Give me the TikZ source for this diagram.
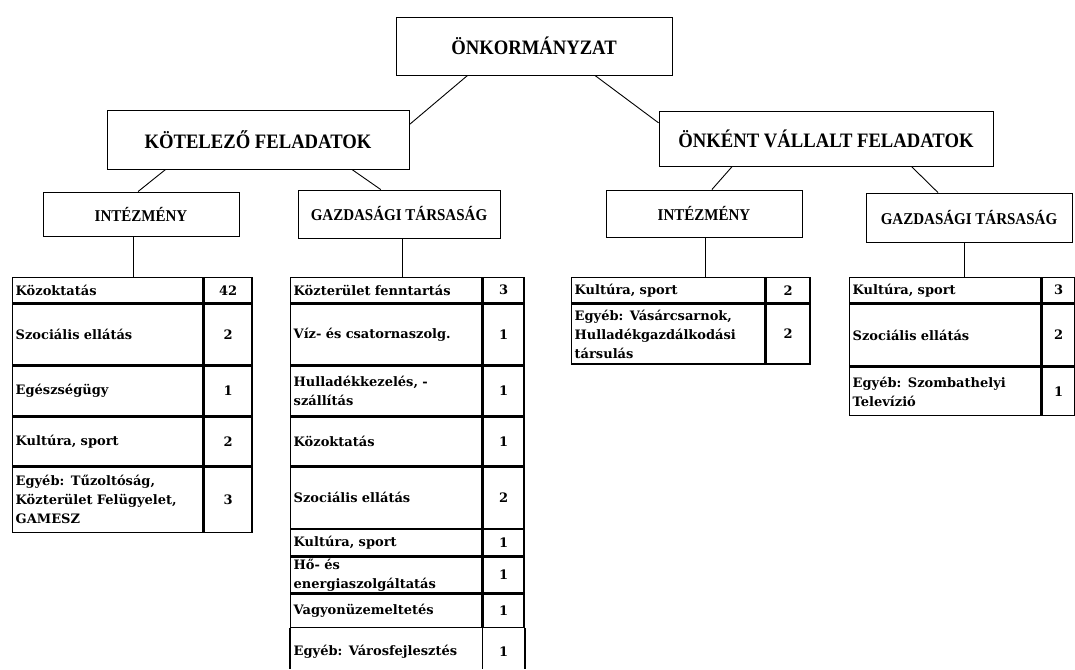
\documentclass[tikz,border=0pt]{standalone}
\usepackage{fontspec}
\newfontfamily\hdfont{Liberation Serif}[FakeStretch=0.91]
\newfontfamily\tabfont{DejaVu Serif}
\usetikzlibrary{calc}
\tikzset{
 hbox/.style={draw, line width=0.9pt, inner sep=0pt, font=\hdfont\bfseries\fontsize{20.5}{24}\selectfont},
 sbox/.style={draw, line width=0.9pt, inner sep=0pt, font=\hdfont\bfseries\fontsize{16.5}{20}\selectfont},
 cell/.style={draw, line width=1.4pt, anchor=north west, inner xsep=3pt, inner ysep=0pt, align=left, font=\tabfont\bfseries\fontsize{13}{19}\selectfont},
 numcell/.style={cell, align=center, inner xsep=0pt},
 opencell/.style={cell, draw=none},
 opennum/.style={numcell, draw=none},
 link/.style={line width=0.9pt},
 tline/.style={line width=1.4pt}
}
\newcommand\trow[7]{%
 \node[cell,text width=#3,minimum height=#5] (#1) at #2 {#6};
 \node[numcell,minimum width=#4,minimum height=#5] (#1n) at (#1.north east) {#7};}
\begin{document}
\begin{tikzpicture}[x=1pt,y=-1pt]
\useasboundingbox (0,0) rectangle (1075,669);
% header boxes
\node[hbox, minimum width=276pt, minimum height=58pt] (top) at (534,46) {ÖNKORMÁNYZAT};
\node[hbox, minimum width=302pt, minimum height=59pt] (kot) at (258,139.5) {KÖTELEZŐ FELADATOK};
\node[hbox, minimum width=334pt, minimum height=55pt] (onk) at (826,138.5) {ÖNKÉNT VÁLLALT FELADATOK};
\node[sbox, minimum width=196pt, minimum height=44pt] (lint) at (141,214) {INTÉZMÉNY};
\node[sbox, minimum width=202pt, minimum height=48pt] (lgaz) at (399,214) {GAZDASÁGI TÁRSASÁG};
\node[sbox, minimum width=196pt, minimum height=47pt] (rint) at (704,213.5) {INTÉZMÉNY};
\node[sbox, minimum width=206pt, minimum height=49pt] (rgaz) at (969,217.5) {GAZDASÁGI TÁRSASÁG};
% connectors
\draw[link] ($(top.south west)!0.26!(top.south east)$) -- ($(kot.north east)!0.25!(kot.south east)$);
\draw[link] ($(top.south west)!0.72!(top.south east)$) -- ($(onk.north west)!0.22!(onk.south west)$);
\draw[link] ($(kot.south west)!0.195!(kot.south east)$) -- ($(lint.north west)!0.485!(lint.north east)$);
\draw[link] ($(kot.south west)!0.81!(kot.south east)$) -- ($(lgaz.north west)!0.41!(lgaz.north east)$);
\draw[link] ($(onk.south west)!0.22!(onk.south east)$) -- ($(rint.north west)!0.54!(rint.north east)$);
\draw[link] ($(onk.south west)!0.755!(onk.south east)$) -- ($(rgaz.north west)!0.35!(rgaz.north east)$);
% left table
\trow{a1}{(12,277)}{184pt}{48pt}{25pt}{Közoktatás}{42}
\trow{a2}{(a1.south west)}{184pt}{48pt}{61pt}{Szociális ellátás}{2}
\trow{a3}{(a2.south west)}{184pt}{48pt}{49pt}{Egészségügy}{1}
\trow{a4}{(a3.south west)}{184pt}{48pt}{49pt}{Kultúra, sport}{2}
\trow{a5}{(a4.south west)}{184pt}{48pt}{65pt}{Egyéb: Tűzoltóság,\\Közterület Felügyelet,\\GAMESZ}{3}
% middle table
\trow{b1}{(290,277)}{185pt}{41pt}{25pt}{Közterület fenntartás}{3}
\trow{b2}{(b1.south west)}{185pt}{41pt}{61pt}{Víz- és csatornaszolg.}{1}
\trow{b3}{(b2.south west)}{185pt}{41pt}{49pt}{Hulladékkezelés, -\\szállítás}{1}
\trow{b4}{(b3.south west)}{185pt}{41pt}{49pt}{Közoktatás}{1}
\trow{b5}{(b4.south west)}{185pt}{41pt}{61pt}{Szociális ellátás}{2}
\trow{b6}{(b5.south west)}{185pt}{41pt}{26pt}{Kultúra, sport}{1}
\trow{b7}{(b6.south west)}{185pt}{41pt}{36pt}{Hő- és\\energiaszolgáltatás}{1}
\trow{b8}{(b7.south west)}{185pt}{41pt}{33pt}{Vagyonüzemeltetés}{1}
\node[opencell,text width=185pt,minimum height=46pt] (b9) at (b8.south west) {Egyéb: Városfejlesztés};
\node[opennum,minimum width=41pt,minimum height=46pt] (b9n) at (b9.north east) {1};
\coordinate (bottom) at (0,669);
\draw[tline] (b9.north west) -- (b9.north west |- bottom);
\draw[tline] (b9n.north west) -- (b9n.north west |- bottom);
\draw[tline] (b9n.north east) -- (b9n.north east |- bottom);
% right INT table
\trow{c1}{(571,277)}{187pt}{44pt}{25pt}{Kultúra, sport}{2}
\trow{c2}{(c1.south west)}{187pt}{44pt}{60pt}{Egyéb: Vásárcsarnok,\\Hulladékgazdálkodási\\társulás}{2}
% right GAZD table
\trow{d1}{(849,277)}{185pt}{33pt}{25pt}{Kultúra, sport}{3}
\trow{d2}{(d1.south west)}{185pt}{33pt}{62pt}{Szociális ellátás}{2}
\trow{d3}{(d2.south west)}{185pt}{33pt}{48pt}{Egyéb: Szombathelyi\\Televízió}{1}
% vertical links
\coordinate (v1) at ($(lint.south west)!0.46!(lint.south east)$);
\draw[link] (v1) -- (v1 |- a1.north);
\coordinate (v2) at ($(lgaz.south west)!0.515!(lgaz.south east)$);
\draw[link] (v2) -- (v2 |- b1.north);
\coordinate (v3) at ($(rint.south west)!0.505!(rint.south east)$);
\draw[link] (v3) -- (v3 |- c1.north);
\coordinate (v4) at ($(rgaz.south west)!0.476!(rgaz.south east)$);
\draw[link] (v4) -- (v4 |- d1.north);
\end{tikzpicture}
\end{document}
